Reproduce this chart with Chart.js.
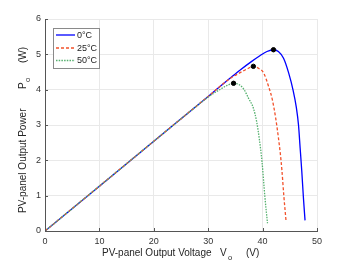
<!DOCTYPE html>
<html><head><meta charset="utf-8">
<script src="https://cdn.jsdelivr.net/npm/chart.js@4.4.1/dist/chart.umd.min.js"></script>
<style>html,body{margin:0;padding:0;background:#fff}#wrap{width:350px;height:263px}</style>
</head><body><div id="wrap"><canvas id="c" width="350" height="263"></canvas></div>
<script>
const seriesNames = ['0°C', '25°C', '50°C'];
const v0 = [0, 10, 20, 30, 34, 36, 38, 39.5, 40.8, 42.0, 42.9, 43.85, 44.8, 45.6, 46.2, 46.6, 46.9, 47.2, 47.5, 47.8];
const p0 = [0, 1.27, 2.54, 3.81, 4.32, 4.57, 4.8, 4.96, 5.08, 5.13, 5.08, 4.89, 4.47, 3.99, 3.5, 3.0, 2.35, 1.7, 0.95, 0.3];
const v25 = [0, 10, 20, 30, 33.7, 36.2, 37.3, 38.3, 39.3, 40.2, 41.1, 41.8, 42.4, 42.9, 43.25, 43.55, 43.9, 44.3];
const p25 = [0, 1.27, 2.54, 3.81, 4.28, 4.51, 4.6, 4.66, 4.6, 4.47, 4.09, 3.71, 3.2, 2.65, 2.2, 1.72, 1.0, 0.3];
const v50 = [0, 10, 20, 28, 30, 32, 33.5, 34.66, 35.7, 36.6, 37.4, 38.3, 38.9, 39.4, 39.9, 40.4, 40.9];
const p50 = [0, 1.27, 2.54, 3.55, 3.79, 3.99, 4.12, 4.18, 4.14, 4.0, 3.76, 3.48, 3.1, 2.6, 1.95, 1.0, 0.22];
const mppV = [42.0, 38.3, 34.66];
const mppP = [5.13, 4.66, 4.18];
const xTicks = [0, 10, 20, 30, 40, 50];
const yTicks = [0, 1, 2, 3, 4, 5, 6];

const colors = ['#0000ff', '#f2512b', '#55b06e'];
const dashes = [[], [3, 2], [1.5, 1.2]];
const pts = (xs, ys) => xs.map((x, i) => ({x, y: ys[i]}));

const legendPlugin = {
  id: 'customLegend',
  afterDatasetsDraw(chart) {
    const ctx = chart.ctx;
    ctx.save();
    ctx.fillStyle = '#fff';
    ctx.strokeStyle = '#8a8a8a';
    ctx.lineWidth = 1;
    ctx.fillRect(53.5, 28.5, 46, 40);
    ctx.strokeRect(53.5, 28.5, 46, 40);
    const rows = [35, 48, 60.5];
    ctx.font = '9px "Liberation Sans", Arial, sans-serif';
    ctx.textBaseline = 'middle';
    for (let i = 0; i < 3; i++) {
      ctx.strokeStyle = colors[i];
      ctx.lineWidth = 1.3;
      ctx.setLineDash(dashes[i]);
      ctx.beginPath(); ctx.moveTo(56, rows[i]); ctx.lineTo(75, rows[i]); ctx.stroke();
      ctx.setLineDash([]);
      ctx.fillStyle = '#222';
      ctx.fillText(seriesNames[i], 77, rows[i] + 0.5);
    }
    ctx.restore();
  },
  afterDraw(chart) {
    const ctx = chart.ctx;
    const a = chart.chartArea;
    const xs = chart.scales.x, ys = chart.scales.y;
    ctx.save();
    ctx.strokeStyle = '#555';
    ctx.lineWidth = 1;
    xTicks.forEach(t => { const px = Math.round(xs.getPixelForValue(t)) + 0.5; ctx.beginPath(); ctx.moveTo(px, a.bottom); ctx.lineTo(px, a.bottom - 3); ctx.stroke(); });
    yTicks.forEach(t => { const py = Math.round(ys.getPixelForValue(t)) + 0.5; ctx.beginPath(); ctx.moveTo(a.left, py); ctx.lineTo(a.left + 3, py); ctx.stroke(); });
    ctx.fillStyle = '#262626';
    ctx.textBaseline = 'alphabetic';
    const f = '10px "Liberation Sans", Arial, sans-serif';
    const fs = '7.5px "Liberation Sans", Arial, sans-serif';
    ctx.font = f;
    ctx.textAlign = 'left';
    ctx.fillText('PV-panel Output Voltage', 102, 256);
    ctx.fillText('V', 220, 256);
    ctx.font = fs; ctx.fillText('o', 228, 260);
    ctx.font = f; ctx.fillText('(V)', 246, 256);
    ctx.translate(26, 0);
    ctx.rotate(-Math.PI / 2);
    ctx.font = f;
    ctx.fillText('PV-panel Output Power', -213, 0);
    ctx.fillText('P', -89, 0);
    ctx.font = fs; ctx.fillText('o', -82, 4);
    ctx.font = f; ctx.fillText('(W)', -63, 0);
    ctx.restore();
  }
};

const lineOrder = [3, 2, 1];
const datasets = [
  {data: pts(v0, p0)}, {data: pts(v25, p25)}, {data: pts(v50, p50)}
].map((d, i) => Object.assign(d, {
  label: seriesNames[i], borderColor: colors[i], borderWidth: 1.3, borderDash: dashes[i],
  pointRadius: 0, fill: false, cubicInterpolationMode: 'monotone', order: lineOrder[i]
}));
datasets.push({
  label: 'MPP', data: pts(mppV, mppP), showLine: false, pointRadius: 2.2,
  pointBackgroundColor: '#000', pointBorderColor: '#000', order: 0
});

new Chart(document.getElementById('c'), {
  type: 'line',
  data: {datasets},
  options: {
    responsive: false, animation: false, devicePixelRatio: 1,
    layout: {padding: {top: 19, right: 33, left: 0, bottom: 0}},
    plugins: {legend: {display: false}, tooltip: {enabled: false}},
    scales: {
      x: {
        type: 'linear', min: 0, max: 50,
        afterBuildTicks: s => { s.ticks = xTicks.map(v => ({value: v})); },
        ticks: {font: {size: 9, family: '"Liberation Sans", Arial, sans-serif'}, color: '#333', padding: 5, maxRotation: 0},
        grid: {color: '#e9e9e9', drawTicks: false},
        border: {display: true, color: '#555'},
        afterFit: s => { s.height = 32; }
      },
      y: {
        type: 'linear', min: 0, max: 6,
        afterBuildTicks: s => { s.ticks = yTicks.map(v => ({value: v})); },
        ticks: {font: {size: 9, family: '"Liberation Sans", Arial, sans-serif'}, color: '#333', padding: 4},
        grid: {color: '#e9e9e9', drawTicks: false},
        border: {display: true, color: '#555'},
        afterFit: s => { s.width = 45; }
      }
    }
  },
  plugins: [legendPlugin]
});
</script>
</body></html>
